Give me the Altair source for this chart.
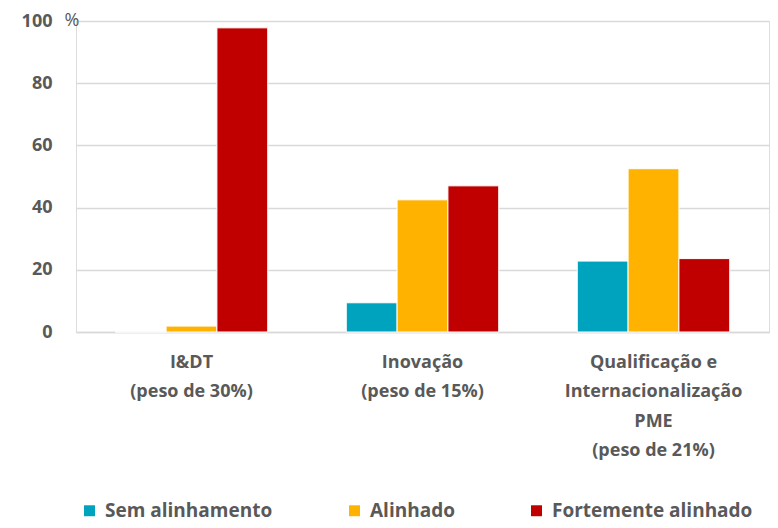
import altair as alt
import pandas as pd

categories = ["I&DT|(peso de 30%)", "Inovação|(peso de 15%)", "Qualificação e|Internacionalização|PME|(peso de 21%)"]
series = ["Sem alinhamento", "Alinhado", "Fortemente alinhado"]
sem_alinhamento = [0, 9.4, 22.8]
alinhado = [1.9, 42.5, 52.5]
fortemente = [97.8, 47.0, 23.6]
colors = ["#00A3BE", "#FFB300", "#C00000"]

rows = []
for i, c in enumerate(categories):
    for s, vals in zip(series, [sem_alinhamento, alinhado, fortemente]):
        rows.append({"cat": c, "serie": s, "valor": vals[i]})
df = pd.DataFrame(rows)

FONT = "Open Sans"
GRAY = "#595959"

bars = alt.Chart(df).mark_bar(stroke="white", strokeWidth=1).encode(
    x=alt.X("cat:N", sort=categories, title=None,
            scale=alt.Scale(paddingInner=0.34, paddingOuter=0.17),
            axis=alt.Axis(labelAngle=0, labelExpr="split(datum.label, '|')",
                          labelFont=FONT, labelFontSize=18, labelFontWeight="bold",
                          labelColor=GRAY, labelLineHeight=29.5, labelPadding=21,
                          ticks=False, domain=True, domainColor="#d9d9d9", domainWidth=1.5,
                          grid=False, labelBaseline="top", labelLimit=300)),
    xOffset=alt.XOffset("serie:N", sort=series, scale=alt.Scale(paddingInner=0.0)),
    y=alt.Y("valor:Q", title=None,
            scale=alt.Scale(domain=[0, 100]),
            axis=alt.Axis(values=[0, 20, 40, 60, 80, 100], labelFont=FONT, labelFontSize=18,
                          labelFontWeight="bold", labelColor=GRAY, labelPadding=24,
                          ticks=False, domain=False, gridColor="#d9d9d9", gridWidth=1.5)),
    color=alt.Color("serie:N", sort=series, title=None,
                    scale=alt.Scale(domain=series, range=colors),
                    legend=alt.Legend(orient="none", legendX=4, legendY=480, direction="horizontal",
                                      symbolType="square", symbolSize=120, symbolStrokeWidth=0,
                                      labelFont=FONT, labelFontSize=19, labelFontWeight="bold",
                                      labelColor=GRAY, columnPadding=72, symbolOffset=0,
                                      labelOffset=6, labelLimit=300)),
)

pct = alt.Chart(pd.DataFrame({"v": [100], "t": ["%"]})).mark_text(
    font=FONT, fontSize=18, color=GRAY, align="center", baseline="middle"
).encode(x=alt.value(-4), y=alt.Y("v:Q"), text="t:N")

chart = alt.layer(bars, pct).properties(
    width=693, height=311,
    autosize=alt.AutoSizeParams(type="none"),
    padding={"left": 68, "top": 13, "right": 1, "bottom": 190},
).configure_view(stroke=None).configure(background="white")

chart.save("out.html", embed_options={"renderer": "svg", "actions": False})
